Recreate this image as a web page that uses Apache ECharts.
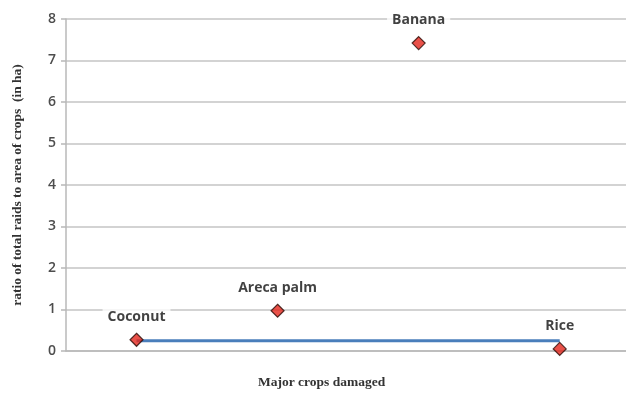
<!DOCTYPE html>
<html>
<head>
<meta charset="utf-8">
<script src="https://cdn.jsdelivr.net/npm/echarts@6/dist/echarts.min.js"></script>
<style>html,body{margin:0;padding:0;background:#fff;}#c{width:626px;height:406px;}</style>
</head>
<body>
<div id="c"></div>
<script>
var categories = ['Coconut', 'Areca palm', 'Banana', 'Rice'];
var ratioValues = [0.27, 0.97, 7.42, 0.05];
var blueLineValues = [0.25, null, null, 0.25];
var yTicks = { min: 0, max: 8, interval: 1 };

var scatterData = categories.map(function (c, i) { return [i, ratioValues[i]]; });
var lineData = [];
blueLineValues.forEach(function (v, i) { if (v !== null) lineData.push([i, v]); });

var chart = echarts.init(document.getElementById('c'), null, { renderer: 'canvas' });
chart.setOption({
  backgroundColor: '#ffffff',
  animation: false,
  grid: { left: 66, right: 0, top: 19, bottom: 55 },
  xAxis: {
    type: 'value',
    min: -0.5, max: 3.47,
    axisLine: { show: true, onZero: false, lineStyle: { color: '#b8b8b8', width: 1.5 } },
    axisTick: { show: false },
    axisLabel: { show: false },
    splitLine: { show: false }
  },
  yAxis: {
    type: 'value',
    min: yTicks.min, max: yTicks.max, interval: yTicks.interval,
    name: 'ratio of total raids to area of crops  (in ha)',
    nameLocation: 'middle',
    nameGap: 41,
    nameTextStyle: { fontFamily: 'Liberation Serif', fontWeight: 'bold', fontSize: 13.5, color: '#333' },
    axisLine: { show: true, onZero: false, lineStyle: { color: '#b8b8b8', width: 1.5 } },
    axisTick: { show: true, length: 5, lineStyle: { color: '#b8b8b8', width: 1.5 } },
    axisLabel: { margin: 10, fontFamily: 'Open Sans', fontSize: 14, fontWeight: 600, color: '#4d4d4d' },
    splitLine: { show: true, lineStyle: { color: '#c4c4c4', width: 1.5 } }
  },
  graphic: [{
    type: 'text',
    left: 258, top: 376,
    style: { text: 'Major crops damaged', font: 'bold 13.5px "Liberation Serif"', fill: '#333' }
  }],
  series: [{
    type: 'line',
    data: lineData,
    showSymbol: false,
    lineStyle: { color: '#4a7ebb', width: 3 },
    z: 2
  }, {
    type: 'scatter',
    data: scatterData,
    symbol: 'diamond',
    symbolSize: 13,
    itemStyle: { color: '#e3261c', borderColor: '#2a0a05', borderWidth: 1.2 },
    label: {
      show: true,
      position: 'top',
      distance: 8,
      formatter: function (p) { return categories[p.dataIndex]; },
      fontFamily: 'Open Sans', fontWeight: 'bold', fontSize: 14, color: '#111',
      backgroundColor: '#ffffff', padding: [1, 5]
    },
    z: 3
  }]
});
</script>
</body>
</html>
